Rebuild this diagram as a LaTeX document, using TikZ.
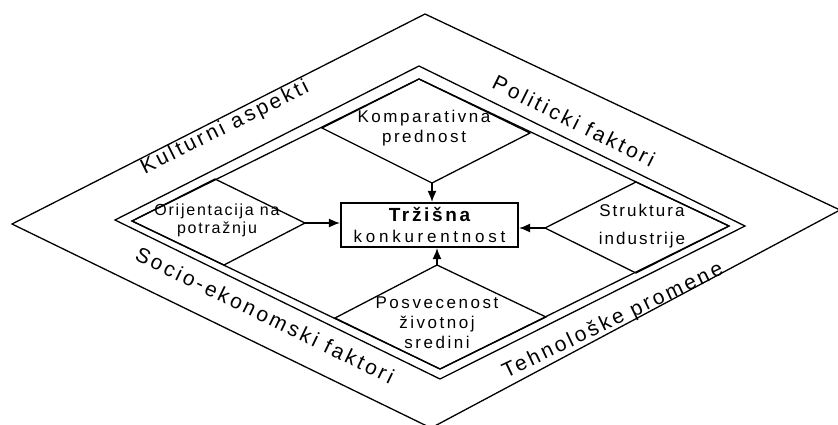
\documentclass[tikz,border=0pt]{standalone}
\usepackage{fontspec}
\setmainfont{Liberation Sans}
\usetikzlibrary{arrows.meta}
\begin{document}
\begin{tikzpicture}[x=1pt,y=-1pt,
  edge/.style={line width=1.3pt, line join=miter},
  inner/.style={font=\fontsize{17}{20}\selectfont\addfontfeature{LetterSpace=15}, align=center, inner sep=0pt},
  band/.style={font=\fontsize{21}{24}\selectfont\addfontfeature{LetterSpace=14}, inner sep=0pt},
  arr/.style={line width=1.3pt, -{Latex[length=11pt,width=9pt]}}]
\useasboundingbox (0,0) rectangle (838,424);

% outer diamond
\coordinate (gT) at (425,14);
\coordinate (gL) at (12,224);
\coordinate (gR) at (840,210);
\coordinate (gB) at (431,428);
\draw[edge] (gT) -- (gR) -- (gB) -- (gL) -- cycle;

% double frame
\coordinate (aT) at (419,66);
\coordinate (aL) at (115,220);
\coordinate (aR) at (745,226);
\coordinate (aB) at (440,379);
\coordinate (bT) at (419,79);
\coordinate (bL) at (132,221);
\coordinate (bR) at (729,226);
\coordinate (bB) at (440,369);
\draw[edge] (aT) -- (aR) -- (aB) -- (aL) -- cycle;
\draw[edge] (bT) -- (bR) -- (bB) -- (bL) -- cycle;

% factor diamonds
\coordinate (kL) at (322,128);
\coordinate (kB) at (432,183);
\coordinate (kR) at (530,133);
\draw[edge] (bT) -- (kR) -- (kB) -- (kL) -- cycle;

\coordinate (oT) at (215,179);
\coordinate (oR) at (305,223);
\coordinate (oB) at (224,265);
\draw[edge] (bL) -- (oT) -- (oR) -- (oB) -- cycle;

\coordinate (sT) at (636,182);
\coordinate (sL) at (545,228);
\coordinate (sB) at (636,273);
\draw[edge] (bR) -- (sT) -- (sL) -- (sB) -- cycle;

\coordinate (pT) at (437,265);
\coordinate (pL) at (335,318);
\coordinate (pR) at (546,317);
\draw[edge] (bB) -- (pL) -- (pT) -- (pR) -- cycle;

% central box
\node[draw, line width=2.2pt, minimum width=177pt, minimum height=44pt,
      inner sep=0pt, align=center,
      font=\fontsize{17}{21}\selectfont\addfontfeature{LetterSpace=22}] (box) at (429.5,225)
  {{\fontsize{19}{21}\bfseries\addfontfeature{LetterSpace=14}Tržišna}\\konkurentnost};

% labels inside diamonds
\node[inner] (kt) at (424,128) {Komparativna\\prednost};
\node[inner, font=\fontsize{16}{18}\selectfont\addfontfeature{LetterSpace=11}] (ot) at (217,220) {Orijentacija na\\potražnju};
\node[inner, font=\fontsize{17}{28}\selectfont\addfontfeature{LetterSpace=12}] (st) at (642,226) {Struktura\\industrije};
\node[inner] (pt) at (437,323) {Posvecenost\\životnoj\\sredini};

% arrows into the box
\draw[arr] (kB) -- (kB |- box.north);
\draw[arr] (oR) -- (oR -| box.west);
\draw[arr] (sL) -- (sL -| box.east);
\draw[arr] (pT) -- (pT |- box.south);

% environment labels
\node[band, rotate=26.5] (ka) at (225,128) {Kulturni aspekti};
\node[band, rotate=-26.5] (pf) at (574,121) {Politicki faktori};
\node[band, rotate=-26] (sf) at (265,315) {Socio-ekonomski faktori};
\node[band, rotate=25.6] (tp) at (613,321) {Tehnološke promene};
\end{tikzpicture}
\end{document}
